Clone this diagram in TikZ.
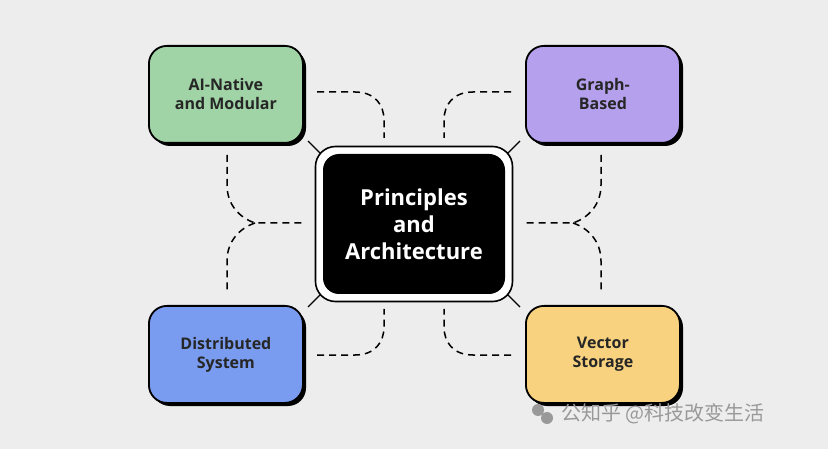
\documentclass[tikz,border=0pt]{standalone}
\usepackage{fontspec}
\setmainfont{Open Sans}
\newfontfamily\cjk{Noto Sans CJK SC}
\begin{document}
\begin{tikzpicture}[x=1pt,y=-1pt,
  box/.style={draw=black,line width=1.8pt,rounded corners=18pt,minimum width=154pt,minimum height=97pt,align=center,font=\fontsize{16}{19}\selectfont\bfseries,text=black!85},
  shadow/.style={fill=black,rounded corners=18pt},
  dsh/.style={dash pattern=on 7pt off 5pt,line width=1.5pt}]
\fill[black!7] (0,0) rectangle (828,449);
\useasboundingbox (0,0) rectangle (828,449);
% shadows
\foreach \x/\y in {148/45,525/45,148/305,525/305}
  \fill[shadow] (\x+4,\y+4) rectangle ++(154,97);
\node[box,fill={rgb,255:red,160;green,211;blue,166},anchor=north west] (ai) at (148,45) {AI-Native\\and Modular};
\node[box,fill={rgb,255:red,180;green,160;blue,236},anchor=north west] (gr) at (525,45) {Graph-\\Based};
\node[box,fill={rgb,255:red,122;green,156;blue,240},anchor=north west] (ds) at (148,305) {Distributed\\System};
\node[box,fill={rgb,255:red,248;green,210;blue,126},anchor=north west] (vs) at (525,305) {Vector\\Storage};
% ticks
\draw[line width=1.3pt] (308,141) -- (332,165) (520,141) -- (496,165) (308,307) -- (332,283) (520,307) -- (496,283);
\node[draw=black,line width=1.6pt,fill=white,rounded corners=20pt,minimum width=197pt,minimum height=155pt] (out) at (414,224) {};
\node[fill=black,rounded corners=16pt,minimum width=182pt,minimum height=140pt,align=center,text=white,font=\fontsize{22}{27}\selectfont\bfseries] (pa) at (414,224) {\fontseries{sb}\selectfont Principles\\\fontseries{sb}\selectfont and\\\fontseries{sb}\selectfont Architecture};
% connectors
\draw[dsh] (317,92) -- (355,92) .. controls (375,92) and (384,105) .. (384,120) -- (384,138);
\draw[dsh] (511,92) -- (473,92) .. controls (453,92) and (444,105) .. (444,120) -- (444,138);
\draw[dsh] (317,355) -- (355,355) .. controls (375,355) and (384,342) .. (384,327) -- (384,309);
\draw[dsh] (511,355) -- (473,355) .. controls (453,355) and (444,342) .. (444,327) -- (444,309);
\coordinate (jl) at (255,223);
\coordinate (jr) at (573,223);
\draw[dsh] (227,155) -- (227,185) .. controls (227,205) and (240,218) .. (jl) -- (303,223);
\draw[dsh] (jl) .. controls (240,228) and (227,241) .. (227,261) -- (227,293);
\draw[dsh] (601,155) -- (601,185) .. controls (601,205) and (588,218) .. (jr) -- (525,223);
\draw[dsh] (jr) .. controls (588,228) and (601,241) .. (601,261) -- (601,293);
% watermark
\node[anchor=west,text=black!40,font=\cjk\fontsize{20}{24}\selectfont] (wm) at (558,414) {公知乎 @科技改变生活};
\fill[black!40] (538,410) circle (6) (547,418) circle (6);
\end{tikzpicture}
\end{document}
